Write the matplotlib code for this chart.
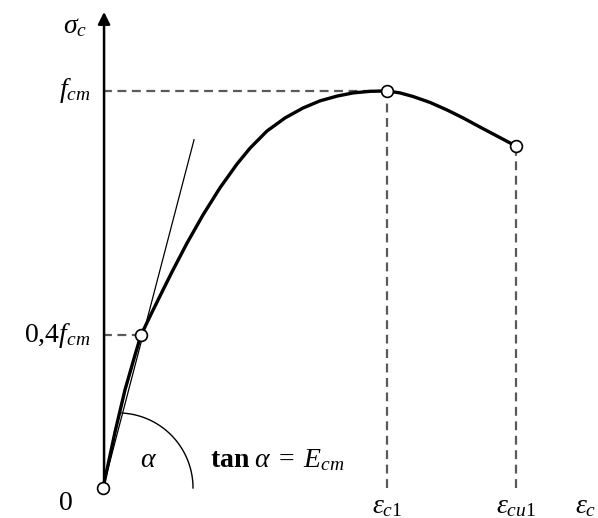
# -*- coding: utf-8 -*-
"""Concrete stress-strain diagram (schematic)."""

import matplotlib.pyplot as plt
import numpy as np

plt.rcParams["mathtext.fontset"] = "custom"
plt.rcParams["mathtext.rm"] = "Liberation Serif"
plt.rcParams["mathtext.it"] = "Liberation Serif:italic"
plt.rcParams["mathtext.bf"] = "Liberation Serif:bold"
plt.rcParams["font.family"] = ["Liberation Serif", "DejaVu Serif"]

# strain (per mille) and stress (fraction of fcm)
strain = [0.000, 0.093, 0.170, 0.248, 0.294, 0.380, 0.465, 0.534, 0.651,
          0.775, 0.906, 1.038, 1.139, 1.270, 1.410, 1.549, 1.681, 1.813,
          1.937, 2.069, 2.200, 2.300, 2.401, 2.533, 2.665, 2.789, 2.920,
          3.060, 3.199]
stress = [0.000, 0.141, 0.247, 0.335, 0.385, 0.443, 0.499, 0.544, 0.617,
          0.688, 0.756, 0.816, 0.856, 0.899, 0.932, 0.957, 0.975, 0.987,
          0.995, 0.999, 1.000, 0.995, 0.986, 0.971, 0.952, 0.932, 0.909,
          0.885, 0.861]

eps_c1, fcm = 2.2, 1.0
eps_cu1, sig_cu1 = 3.199, 0.861
eps_04, sig_04 = 0.294, 0.385
tangent_end = (0.705, 0.877)

fig = plt.figure(figsize=(5.98, 5.18), dpi=100)
ax = fig.add_axes([0, 0, 1, 1])
ax.set_xlim(-0.798, 3.834)
ax.set_ylim(-0.0756, 1.229)
ax.axis("off")

# axes with arrows
ax.annotate("", xy=(4.0, 0), xytext=(0, 0),
            arrowprops=dict(arrowstyle="-|>", color="black", lw=1.8,
                            mutation_scale=18, shrinkA=0, shrinkB=0))
ax.annotate("", xy=(0.008, 1.199), xytext=(0.008, 0),
            arrowprops=dict(arrowstyle="-|>", color="black", lw=1.8,
                            mutation_scale=18, shrinkA=0, shrinkB=0))

# dashed guide lines
dash = dict(color="#5a5a5a", lw=1.6, ls=(0, (4, 2.5)))
ax.plot([0, eps_c1], [fcm, fcm], **dash)
ax.plot([eps_c1, eps_c1], [0, fcm], **dash)
ax.plot([0, eps_04], [sig_04, sig_04], **dash)
ax.plot([eps_cu1, eps_cu1], [0, sig_cu1], **dash)

# tangent line
ax.plot([0, tangent_end[0]], [0, tangent_end[1]], color="black", lw=0.9)

# angle arc (circle in pixel space)
t = np.linspace(0, np.radians(87), 60)
ax.plot(0.116 + 0.581 * np.cos(t), 0.189 * np.sin(t), color="black", lw=1.0)

# curve
ax.plot(strain, stress, color="black", lw=2.4, solid_capstyle="round",
        solid_joinstyle="round")

# marker points
ax.plot([0, eps_04, eps_c1, eps_cu1], [0, sig_04, fcm, sig_cu1], "o",
        ms=8.5, mfc="white", mec="black", mew=1.2, zorder=5, clip_on=False)

fs = 20
ax.text(-0.217, 1.163, r"$\sigma_c$", fontsize=fs, ha="center", va="center")
ax.text(-0.10, fcm, r"$f_{cm}$", fontsize=fs, ha="right", va="center")
ax.text(-0.10, sig_04, r"0,4$f_{cm}$", fontsize=fs, ha="right", va="center")
ax.text(-0.287, -0.040, "0", fontsize=fs, ha="center", va="center")
ax.text(eps_c1, -0.048, r"$\varepsilon_{c1}$", fontsize=fs, ha="center",
        va="center")
ax.text(eps_cu1, -0.048, r"$\varepsilon_{cu1}$", fontsize=fs, ha="center",
        va="center")
ax.text(3.825, -0.048, r"$\varepsilon_c$", fontsize=fs, ha="right",
        va="center")
ax.text(0.349, 0.07, r"$\alpha$", fontsize=fs, ha="center", va="center")
ax.text(0.829, 0.07, r"$\mathbf{tan}\;\alpha\;=\;E_{cm}$", fontsize=fs,
        ha="left", va="center")

fig.savefig("out.png", dpi=100)
